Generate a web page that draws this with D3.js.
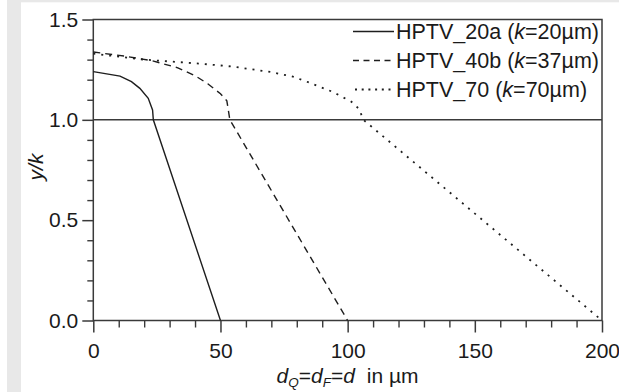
<!DOCTYPE html>
<html>
<head>
<meta charset="utf-8">
<script src="https://cdn.jsdelivr.net/npm/d3@7"></script>
<style>
  html, body { margin: 0; padding: 0; background: #fff; }
  svg { display: block; font-family: "Liberation Sans", Arial, Helvetica, sans-serif; }
</style>
</head>
<body>
<svg id="chart" width="619" height="392"></svg>
<script>
// Profile depth d (µm) for each sample
const dHPTV20a = [0, 10.5, 15, 18.3, 21.6, 23.3, 23.6, 50];
const yHPTV20a = [1.240, 1.218, 1.19, 1.157, 1.107, 1.049, 1.0, 0];

const dHPTV40b = [0, 12, 23, 33, 40, 45, 50, 52.5, 53.7, 100];
const yHPTV40b = [1.338, 1.318, 1.295, 1.26, 1.22, 1.18, 1.13, 1.095, 1.0, 0];

const dHPTV70 = [0, 20, 42, 55, 70, 78.5, 85, 94, 101.5, 104.5, 106.2, 200];
const yHPTV70 = [1.33, 1.30, 1.28, 1.265, 1.238, 1.215, 1.185, 1.14, 1.09, 1.054, 1.0, 0];

const seriesNames = ["HPTV_20a", "HPTV_40b", "HPTV_70"];
const seriesK = ["20", "37", "70"];
const seriesDash = [null, "7,5", "2,6"];

const xMajorTicks = [0, 50, 100, 150, 200];
const yMajorTicks = [0.0, 0.5, 1.0, 1.5];

const series = [
  { name: seriesNames[0], k: seriesK[0], dash: seriesDash[0], d: dHPTV20a, y: yHPTV20a },
  { name: seriesNames[1], k: seriesK[1], dash: seriesDash[1], d: dHPTV40b, y: yHPTV40b },
  { name: seriesNames[2], k: seriesK[2], dash: seriesDash[2], d: dHPTV70, y: yHPTV70 }
];

const svg = d3.select("#chart");
const axisColor = "#3a3a3a";
const textColor = "#1a1a1a";

// page background strips
svg.append("rect").attr("x", 7).attr("y", 0).attr("width", 14).attr("height", 392).attr("fill", "#e8e8e8");
svg.append("rect").attr("x", 7).attr("y", 0).attr("width", 612).attr("height", 2.3).attr("fill", "#e8e8e8");

const x = d3.scaleLinear().domain([0, 200]).range([93.3, 602]);
const y = d3.scaleLinear().domain([0, 1.5]).range([320.5, 19.5]);

const [x0, x1] = x.range();
const [y0, y1] = y.range();

// minor ticks
const xMinor = d3.range(0, 201, 10).filter(v => v % 50 !== 0);
const yMinor = d3.range(0, 16, 1).map(v => v / 10).filter(v => Math.round(v * 10) % 5 !== 0);

svg.append("g")
  .attr("transform", `translate(0,${y0})`)
  .call(d3.axisBottom(x).tickValues(xMinor).tickSize(7).tickFormat(""))
  .call(g => g.select(".domain").remove())
  .call(g => g.selectAll("line").attr("stroke", axisColor).attr("stroke-width", 1.4));

svg.append("g")
  .attr("transform", `translate(${x0},0)`)
  .call(d3.axisLeft(y).tickValues(yMinor).tickSize(6).tickFormat(""))
  .call(g => g.select(".domain").remove())
  .call(g => g.selectAll("line").attr("stroke", axisColor).attr("stroke-width", 1.4));

// major ticks with labels
svg.append("g")
  .attr("transform", `translate(0,${y0})`)
  .call(d3.axisBottom(x).tickValues(xMajorTicks).tickSize(12).tickPadding(10.5).tickFormat(d3.format("d")))
  .call(g => g.select(".domain").remove())
  .call(g => g.selectAll("line").attr("stroke", axisColor).attr("stroke-width", 1.5))
  .call(g => g.selectAll("text").attr("fill", textColor).style("font-size", "21px").attr("font-family", null));

svg.append("g")
  .attr("transform", `translate(${x0},0)`)
  .call(d3.axisLeft(y).tickValues(yMajorTicks).tickSize(11).tickPadding(4).tickFormat(d3.format(".1f")))
  .call(g => g.select(".domain").remove())
  .call(g => g.selectAll("line").attr("stroke", axisColor).attr("stroke-width", 1.5))
  .call(g => g.selectAll("text").attr("fill", textColor).style("font-size", "21px").attr("font-family", null));

// frame
svg.append("rect")
  .attr("x", x0).attr("y", y1)
  .attr("width", x1 - x0).attr("height", y0 - y1)
  .attr("fill", "none").attr("stroke", axisColor).attr("stroke-width", 1.5);

// reference line at y/k = 1
svg.append("line")
  .attr("x1", x0).attr("x2", x1)
  .attr("y1", y(1)).attr("y2", y(1))
  .attr("stroke", axisColor).attr("stroke-width", 1.5);

// curves
const line = d3.line().x(p => x(p[0])).y(p => y(p[1]));
series.forEach(s => {
  const pts = s.d.map((d, i) => [d, s.y[i]]);
  svg.append("path")
    .attr("d", line(pts))
    .attr("fill", "none")
    .attr("stroke", "#1e1e1e")
    .attr("stroke-width", s.dash === "2,6" ? 1.8 : 1.4)
    .attr("stroke-dasharray", s.dash);
});

// legend
const legend = svg.append("g");
const legendRows = [39, 68, 97];
const sampleStarts = [353, 353, 355];
series.forEach((s, i) => {
  const by = legendRows[i];
  legend.append("line")
    .attr("x1", sampleStarts[i]).attr("x2", 394)
    .attr("y1", by - 7.5).attr("y2", by - 7.5)
    .attr("stroke", "#1e1e1e")
    .attr("stroke-width", s.dash === "2,6" ? 1.8 : 1.4)
    .attr("stroke-dasharray", s.dash === "2,6" ? "2,4.7" : (s.dash ? "6,4.5" : null));
  const t = legend.append("text")
    .attr("x", 396).attr("y", by)
    .attr("fill", textColor)
    .style("font-size", "21.5px");
  t.append("tspan").text(`${s.name} (`);
  t.append("tspan").attr("font-style", "italic").text("k");
  t.append("tspan").text(`=${s.k}µm)`);
});

// axis titles
svg.append("text")
  .attr("transform", "translate(43,167) rotate(-90)")
  .attr("text-anchor", "middle")
  .attr("fill", textColor)
  .style("font-size", "21px")
  .attr("font-style", "italic")
  .text("y/k");

const xTitle = svg.append("text")
  .attr("x", 347.5).attr("y", 383)
  .attr("text-anchor", "middle")
  .attr("fill", textColor)
  .style("font-size", "21px");
xTitle.append("tspan").attr("font-style", "italic").text("d");
xTitle.append("tspan").attr("font-style", "italic").attr("dy", 4).style("font-size", "13.5px").text("Q");
xTitle.append("tspan").attr("dy", -4).text("=");
xTitle.append("tspan").attr("font-style", "italic").text("d");
xTitle.append("tspan").attr("font-style", "italic").attr("dy", 4).style("font-size", "13.5px").text("F");
xTitle.append("tspan").attr("dy", -4).text("=");
xTitle.append("tspan").attr("font-style", "italic").text("d");
xTitle.append("tspan").attr("dx", 6).text(" in µm");
</script>
</body>
</html>
